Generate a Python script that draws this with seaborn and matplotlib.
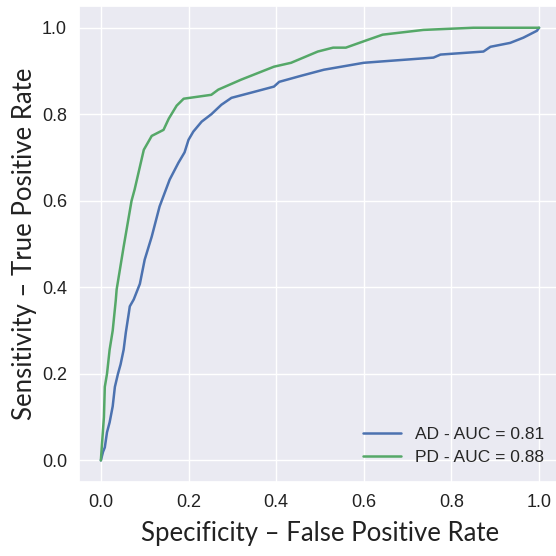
import numpy as np
import matplotlib
matplotlib.use("Agg")
import matplotlib.pyplot as plt
import seaborn as sns

# ── ROC POINTS ────────────────────────────────────────────────────────
ad_fpr = [0.0, 0.005, 0.009, 0.014, 0.02, 0.027, 0.032, 0.039, 0.045, 0.052,
          0.057, 0.064, 0.066, 0.075, 0.089, 0.1, 0.116, 0.134, 0.157, 0.177,
          0.191, 0.2, 0.211, 0.23, 0.252, 0.275, 0.298, 0.343, 0.395, 0.407,
          0.457, 0.509, 0.6, 0.639, 0.759, 0.775, 0.873, 0.889, 0.934, 0.964,
          0.995, 1.0]
ad_tpr = [0.0, 0.02, 0.03, 0.065, 0.088, 0.125, 0.17, 0.2, 0.222, 0.256,
          0.296, 0.342, 0.356, 0.372, 0.408, 0.464, 0.517, 0.587, 0.649, 0.688,
          0.712, 0.741, 0.76, 0.783, 0.8, 0.822, 0.838, 0.85, 0.864, 0.875,
          0.889, 0.903, 0.919, 0.922, 0.931, 0.938, 0.945, 0.956, 0.965, 0.977,
          0.993, 1.0]

pd_fpr = [0.0, 0.002, 0.007, 0.009, 0.014, 0.02, 0.027, 0.034, 0.036, 0.052,
          0.07, 0.077, 0.098, 0.111, 0.116, 0.143, 0.155, 0.173, 0.189, 0.252,
          0.268, 0.32, 0.395, 0.434, 0.495, 0.53, 0.559, 0.609, 0.643, 0.736,
          0.85, 1.0]
pd_tpr = [0.0, 0.03, 0.10, 0.17, 0.2, 0.256, 0.30, 0.37, 0.395, 0.494,
          0.6, 0.626, 0.718, 0.741, 0.75, 0.764, 0.79, 0.82, 0.836, 0.845,
          0.857, 0.88, 0.91, 0.919, 0.945, 0.954, 0.954, 0.972, 0.984, 0.995,
          1.0, 1.0]

labels = ["AD - AUC = 0.81", "PD - AUC = 0.88"]
colors = ["#4C72B0", "#55A868"]
ticks  = [0.0, 0.2, 0.4, 0.6, 0.8, 1.0]

# ── PLOT ──────────────────────────────────────────────────────────────
sns.set_theme(style="darkgrid")
plt.rcParams['font.family'] = ['Liberation Sans', 'DejaVu Sans']

fig = plt.figure(figsize=(5.56, 5.56), dpi=100)
ax = fig.add_axes([0.142, 0.133, 0.867, 0.856])

sns.lineplot(x=ad_fpr, y=ad_tpr, ax=ax, color=colors[0], lw=1.8,
             label=labels[0], sort=False, estimator=None)
sns.lineplot(x=pd_fpr, y=pd_tpr, ax=ax, color=colors[1], lw=1.8,
             label=labels[1], sort=False, estimator=None)

ax.set_xlim(-0.05, 1.05)
ax.set_ylim(-0.05, 1.05)
ax.set_xticks(ticks)
ax.set_yticks(ticks)
ax.tick_params(labelsize=13, length=0, pad=8.6, colors='#222222')

lab_font = dict(family=['Lato', 'DejaVu Sans'], size=18.5, color='#222222')
ax.set_xlabel("Specificity – False Positive Rate", **lab_font)
ax.set_ylabel("Sensitivity – True Positive Rate", **lab_font)
ax.xaxis.set_label_coords(0.5, -0.082)
ax.yaxis.set_label_coords(-0.087, 0.5)

ax.legend(loc='lower right', bbox_to_anchor=(0.965, 0.035), frameon=False,
          fontsize=12.5, handlelength=2.2, borderaxespad=0, borderpad=0,
          labelspacing=0.45, handletextpad=0.8)

fig.savefig("out.png", dpi=100)
